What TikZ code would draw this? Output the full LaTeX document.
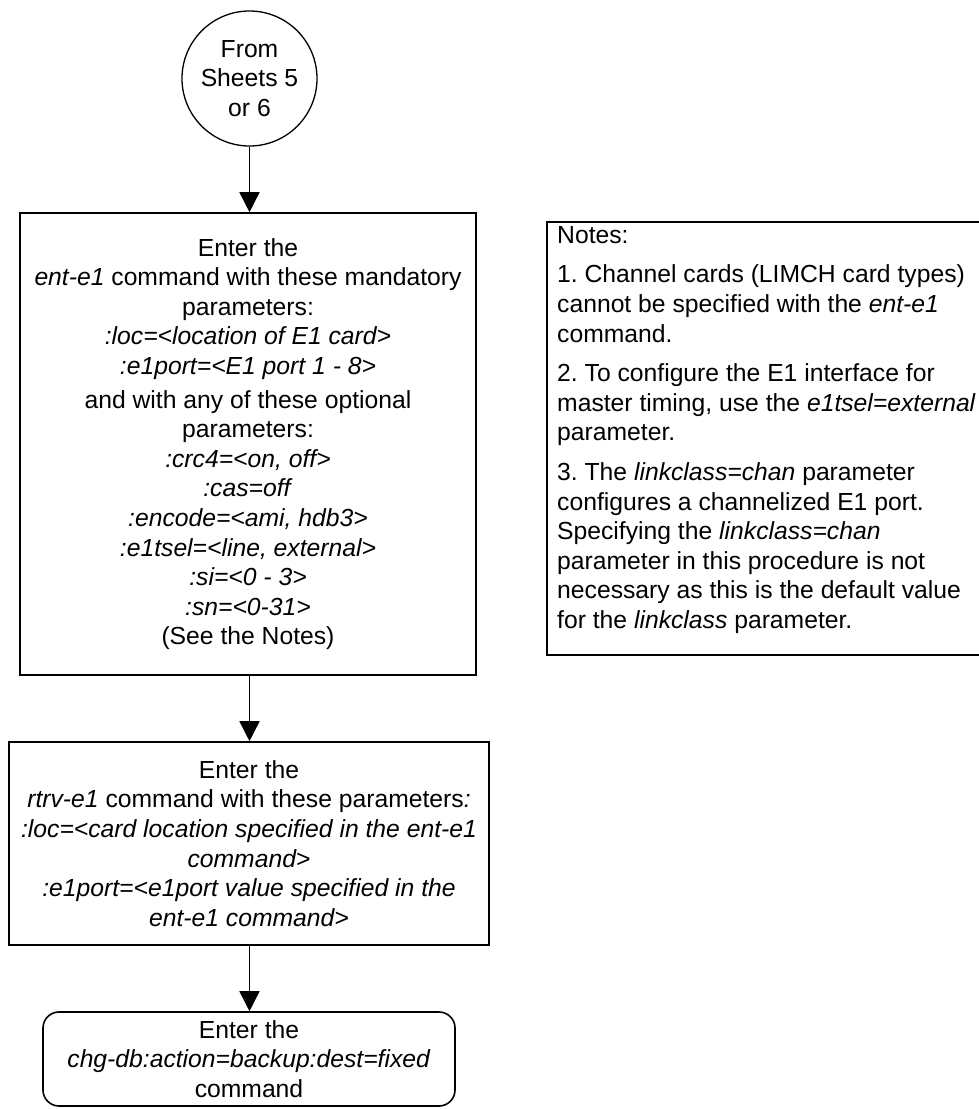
\documentclass[tikz,border=0pt]{standalone}
\usepackage{fontspec}
\setmainfont{Liberation Sans}
\usetikzlibrary{arrows.meta}
\begin{document}
\frenchspacing
\begin{tikzpicture}[x=1pt,y=-1pt,
  every node/.style={font=\fontsize{24.7}{29.6}\selectfont, inner sep=0pt},
  boxstyle/.style={draw, line width=1.6pt, align=center},
  flow/.style={line width=1.5pt, -{Triangle[length=20pt,width=20pt]}}]
\useasboundingbox (0,0) rectangle (978,1109);
\node[draw, circle, line width=1.3pt, minimum size=135pt, align=center] (start) at (249.5,78.5) {From\\Sheets 5\\or 6};
\node[boxstyle, minimum width=456pt, minimum height=462pt] (b1) at (248,444) {Enter the\\
\textit{ent-e1} command with these mandatory\\
parameters:\\
\textit{:loc=<location of E1 card>}\\
\textit{:e1port=<E1 port 1 - 8>}\\[4pt]
and with any of these optional\\
parameters:\\
\textit{:crc4=<on, off>}\\
\textit{:cas=off}\\
\textit{:encode=<ami, hdb3>}\\
\textit{:e1tsel=<line, external>}\\
\textit{:si=<0 - 3>}\\
\textit{:sn=<0-31>}\\
(See the Notes)};
\node[boxstyle, minimum width=480pt, minimum height=203pt] (b2) at (249,843.5) {Enter the\\
\textit{rtrv-e1} command with these parameters\textit{:}\\
\textit{:loc=<card location specified in the ent-e1}\\
\textit{command>}\\
\textit{:e1port=<e1port value specified in the}\\
\textit{ent-e1 command>}};
\node[boxstyle, rounded corners=16pt, minimum width=412pt, minimum height=94pt] (b3) at (249,1059) {Enter the\\
\textit{chg-db:action=backup:dest=fixed}\\
command};
\draw[line width=1.6pt] (1000,222) -- (547,222) -- (547,655) -- (1000,655);
\node[anchor=north west, align=left] (notes) at (557,226) {Notes:\\[10pt]
1. Channel cards (LIMCH card types)\\
cannot be specified with the \textit{ent-e1}\\
command.\\[10pt]
2. To configure the E1 interface for\\
master timing, use the \textit{e1tsel=external}\\
parameter.\\[10pt]
3. The \textit{linkclass=chan} parameter\\
configures a channelized E1 port.\\
Specifying the \textit{linkclass=chan}\\
parameter in this procedure is not\\
necessary as this is the default value\\
for the \textit{linkclass} parameter.};
\draw[flow] (start) -- (start |- b1.north);
\draw[flow] (b1.south -| start) -- (b2.north -| start);
\draw[flow] (b2.south -| start) -- (b3.north -| start);
\end{tikzpicture}
\end{document}
